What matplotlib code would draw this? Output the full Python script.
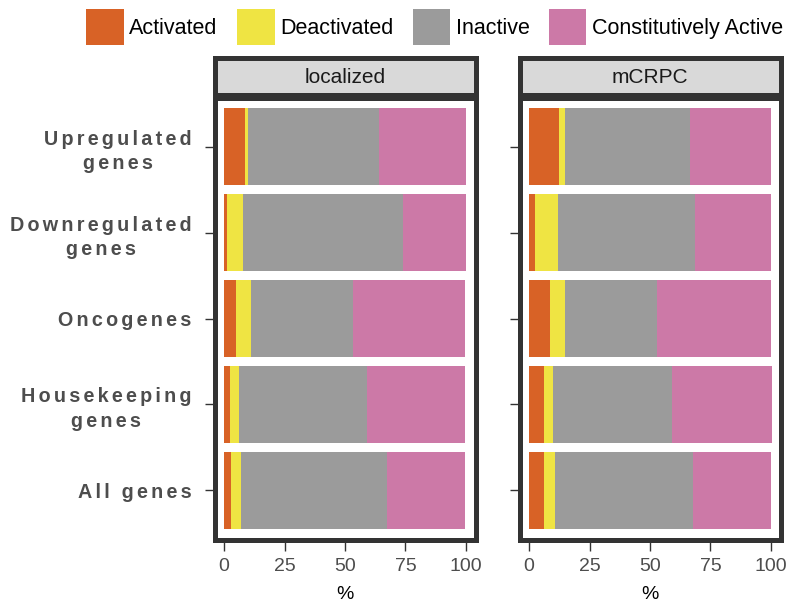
import matplotlib
matplotlib.use('Agg')
import matplotlib.pyplot as plt
import matplotlib.transforms as mtransforms
from matplotlib.patches import Patch
import numpy as np

plt.rcParams['font.family'] = ['Liberation Sans', 'DejaVu Sans']

# categories top to bottom
categorias = ['Upregulated\ngenes', 'Downregulated\ngenes', 'Oncogenes',
              'Housekeeping\ngenes', 'All genes']
estados = ['Activated', 'Deactivated', 'Inactive', 'Constitutively Active']
colores = ['#D86226', '#EFE443', '#9B9B9B', '#CC79A7']

# localized (%)
loc_act = [8.7, 1.2, 5.0, 2.5, 2.9]
loc_deact = [1.2, 6.6, 6.2, 3.7, 4.1]
loc_inact = [54.1, 66.4, 42.1, 52.9, 60.3]
loc_const = [36.0, 25.8, 46.3, 40.5, 32.2]

# mCRPC (%)
mc_act = [12.4, 2.5, 8.7, 6.2, 6.2]
mc_deact = [2.5, 9.5, 6.2, 3.7, 4.6]
mc_inact = [51.7, 56.8, 38.2, 49.2, 56.8]
mc_const = [33.3, 31.1, 46.9, 41.2, 32.4]

paneles = [('localized', [loc_act, loc_deact, loc_inact, loc_const]),
           ('mCRPC', [mc_act, mc_deact, mc_inact, mc_const])]

W, H = 805, 607
fig = plt.figure(figsize=(W / 100, H / 100), dpi=100)

oscuro = '#333333'
gris_txt = '#4D4D4D'
lw = 3.6

def espaciar(s):
    # letter spacing like the original
    return '\n'.join('\u2006'.join(linea) for linea in s.split('\n'))

x_px = [214.5, 519.5]
ancho_px = 261
y = np.arange(len(categorias))

for i, (nombre, series) in enumerate(paneles):
    ax = fig.add_axes([x_px[i] / W, (H - 539.5) / H, ancho_px / W, 442 / H])
    izq = np.zeros(len(categorias))
    for vals, col in zip(series, colores):
        ax.barh(y, vals, left=izq, height=0.9, color=col, linewidth=0)
        izq = izq + np.array(vals)
    ax.set_xlim(-4, 104)
    ax.set_ylim(4.57, -0.57)
    for s in ax.spines.values():
        s.set_linewidth(lw)
        s.set_color(oscuro)
    ax.set_xticks([0, 25, 50, 75, 100])
    ax.set_yticks(y)
    if i == 0:
        ax.set_yticklabels([espaciar(c) for c in categorias], fontsize=14.2,
                           fontweight='bold', color=gris_txt, linespacing=1.35,
                           multialignment='center')
        despl = mtransforms.ScaledTranslation(0, -3 / 100, fig.dpi_scale_trans)
        for lab in ax.get_yticklabels():
            lab.set_transform(lab.get_transform() + despl)
    else:
        ax.set_yticklabels([])
    ax.tick_params(axis='y', length=7.5, width=1, color=oscuro, pad=9)
    ax.tick_params(axis='x', length=8, width=1, color=oscuro, pad=5,
                   labelsize=14, labelcolor=gris_txt)
    ax.set_xlabel('%', fontsize=14, labelpad=8)

    # strip
    st = fig.add_axes([x_px[i] / W, (H - 94.5) / H, ancho_px / W, 37 / H])
    st.set_facecolor('#D9D9D9')
    st.set_xticks([])
    st.set_yticks([])
    for s in st.spines.values():
        s.set_linewidth(lw)
        s.set_color(oscuro)
    st.text(0.5, 0.47, nombre, ha='center', va='center', fontsize=15,
            color='#1A1A1A', transform=st.transAxes)

handles = [Patch(facecolor=c, edgecolor='none') for c in colores]
fig.legend(handles, estados, loc='upper right',
           bbox_to_anchor=(783 / W, 1 - 9 / H), ncol=4, frameon=False,
           fontsize=15.5, handlelength=1.75, handleheight=2.2,
           handletextpad=0.25, columnspacing=0.9, borderpad=0,
           borderaxespad=0)

plt.savefig('out.png', dpi=100)
